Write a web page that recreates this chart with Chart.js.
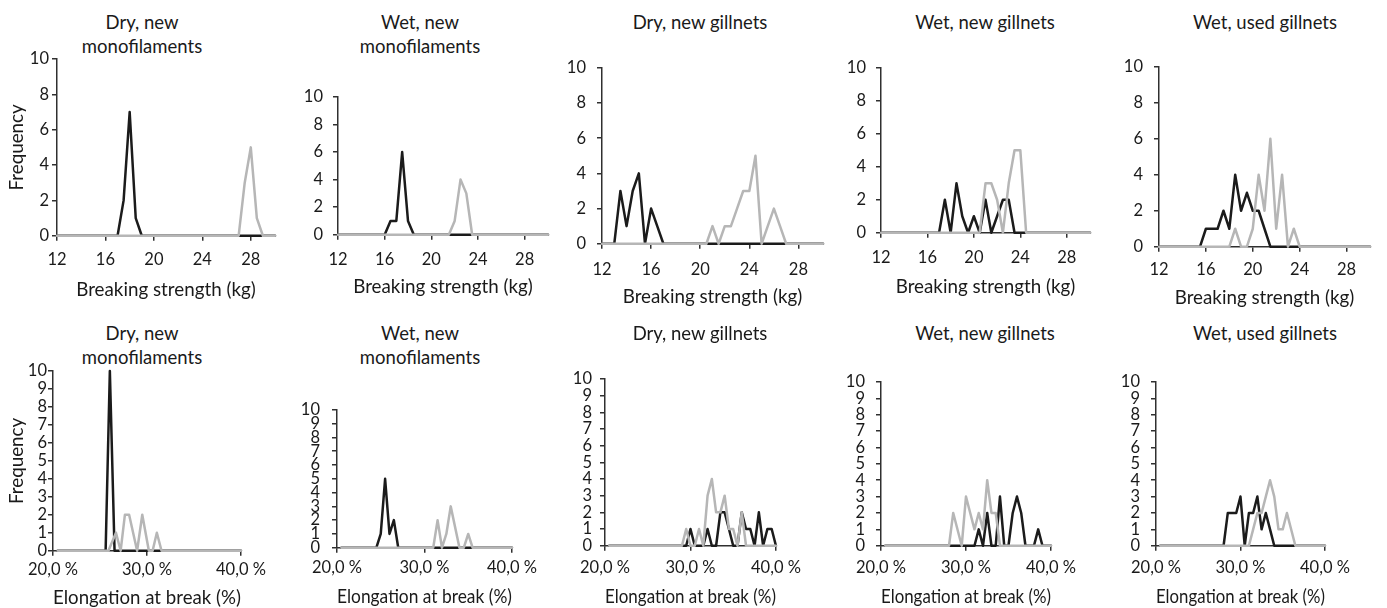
<!DOCTYPE html>
<html>
<head>
<meta charset="utf-8">
<script src="https://cdn.jsdelivr.net/npm/chart.js@4.4.0/dist/chart.umd.min.js"></script>
<style>
  body { margin: 0; width: 1387px; height: 608px; overflow: hidden; background: #fff; position: relative; font-family: Lato, sans-serif; color: #1a1a1a; }
  canvas { position: absolute; }
  .ttl { position: absolute; font-size: 18.5px; line-height: 24px; text-align: center; white-space: nowrap; transform: translateX(-50%); }
</style>
</head>
<body>
<script>
// Axis ticks
const bsTicks = [12, 16, 20, 24, 28];
const bsTickLabels = ['12', '16', '20', '24', '28'];
const elTicks = [20, 30, 40];
const elTickLabels = ['20,0 %', '30,0 %', '40,0 %'];

const panelTitles = [
    ['Dry, new', 'monofilaments'], ['Wet, new', 'monofilaments'],
    ['Dry, new gillnets'], ['Wet, new gillnets'], ['Wet, used gillnets']
];

// Breaking strength (kg) -> frequency, [x, y]
const bsDryMonoBlack = [[12,0],[17,0],[17.5,2],[18,7],[18.5,1],[19,0],[30,0]];
const bsDryMonoGray  = [[12,0],[27,0],[27.5,3],[28,5],[28.5,1],[29,0],[30,0]];
const bsWetMonoBlack = [[12,0],[16,0],[16.5,1],[17,1],[17.5,6],[18,1],[18.5,0],[30,0]];
const bsWetMonoGray  = [[12,0],[21.5,0],[22,1],[22.5,4],[23,3],[23.5,0],[30,0]];
const bsDryNetBlack  = [[12,0],[13,0],[13.5,3],[14,1],[14.5,3],[15,4],[15.5,0],[16,2],[16.5,1],[17,0],[30,0]];
const bsDryNetGray   = [[12,0],[20.5,0],[21,1],[21.5,0],[22,1],[22.5,1],[23,2],[23.5,3],[24,3],[24.5,5],[25,0],[25.5,1],[26,2],[26.5,1],[27,0],[30,0]];
const bsWetNetBlack  = [[12,0],[17,0],[17.5,2],[18,0],[18.5,3],[19,1],[19.5,0],[20,1],[20.5,0],[21,2],[21.5,0],[22,1],[22.5,2],[23,2],[23.5,0],[30,0]];
const bsWetNetGray   = [[12,0],[20.5,0],[21,3],[21.5,3],[22,2],[22.5,0],[23,3],[23.5,5],[24,5],[24.5,0],[30,0]];
const bsWetUsedBlack = [[12,0],[15.5,0],[16,1],[16.5,1],[17,1],[17.5,2],[18,1],[18.5,4],[19,2],[19.5,3],[20,2],[20.5,2],[21,1],[21.5,0],[30,0]];
const bsWetUsedGray  = [[12,0],[18,0],[18.5,1],[19,0],[19.5,0],[20,1],[20.5,4],[21,2],[21.5,6],[22,1],[22.5,4],[23,0],[23.5,1],[24,0],[30,0]];

// Elongation at break (%) -> frequency, [x, y]
const elDryMonoBlack = [[20.5,0],[25.6,0],[26.05,10],[26.55,0],[40,0]];
const elDryMonoGray  = [[20.5,0],[25.9,0],[26.7,1],[27.2,0],[27.65,2],[28.1,2],[28.95,0],[29.5,2],[30.2,0],[30.6,0],[31.05,1],[31.55,0],[40,0]];
const elWetMonoBlack = [[20.5,0],[24.5,0],[25,1],[25.5,5],[26,1],[26.5,2],[27,0],[40,0]];
const elWetMonoGray  = [[20.5,0],[31,0],[31.5,2],[32,0],[32.5,1],[33,3],[34,0],[34.5,0],[35,1],[35.5,0],[40,0]];
const elDryNetBlack  = [[20.5,0],[29.5,0],[30,1],[30.5,0],[31.5,0],[32,1],[32.5,0],[33,0],[33.5,2],[34,2],[34.5,1],[35,0],[35.5,0],[36,2],[36.5,1],[37,1],[37.5,0],[38,2],[38.5,0],[39,1],[39.5,1],[40,0]];
const elDryNetGray   = [[20.5,0],[29,0],[29.5,1],[30,0],[30.5,0],[31,1],[31.5,0],[32,3],[32.5,4],[33,2],[33.5,2],[34,3],[34.5,1],[35,1],[35.5,0],[36,2],[36.5,0],[40,0]];
const elWetNetBlack  = [[20.5,0],[31,0],[31.5,1],[32,0],[32.5,2],[33,0],[33.5,0],[34,3],[34.5,0],[35,0],[35.5,2],[36,3],[36.5,2],[37,0],[38,0],[38.5,1],[39,0],[40,0]];
const elWetNetGray   = [[20.5,0],[28,0],[28.5,2],[29.5,0],[30,3],[30.5,2],[31,1],[31.5,2],[32,1],[32.5,4],[33,2],[33.5,2],[34,0],[40,0]];
const elWetUsedBlack = [[20.5,0],[28,0],[28.5,2],[29,2],[29.5,2],[30,3],[30.5,0],[31,2],[31.5,2],[32,3],[32.5,1],[33,2],[33.5,1],[34,0],[40,0]];
const elWetUsedGray  = [[20.5,0],[31,0],[31.5,1],[32,2],[32.5,2],[33,3],[33.5,4],[34,3],[34.5,1],[35,1],[35.5,2],[36.5,0],[40,0]];

const blackSeries = [bsDryMonoBlack, bsWetMonoBlack, bsDryNetBlack, bsWetNetBlack, bsWetUsedBlack,
                     elDryMonoBlack, elWetMonoBlack, elDryNetBlack, elWetNetBlack, elWetUsedBlack];
const graySeries  = [bsDryMonoGray, bsWetMonoGray, bsDryNetGray, bsWetNetGray, bsWetUsedGray,
                     elDryMonoGray, elWetMonoGray, elDryNetGray, elWetNetGray, elWetUsedGray];

// Panel placement (plot edges, title centre, label rows)
const layout = [
    {xL: 57,   xR: 275,  yT: 59,  yB: 236, tc: 142,  tY: 22,  tickY: 260, axisY: 290, gap: 3, yTitle: 17},
    {xL: 338,  xR: 548,  yT: 91,  yB: 235, tc: 420,  tY: 22,  tickY: 260, axisY: 287, gap: 10},
    {xL: 602,  xR: 823,  yT: 61,  yB: 244, tc: 700,  tY: 22,  tickY: 270, axisY: 297, gap: 11},
    {xL: 881,  xR: 1090, yT: 62,  yB: 233, tc: 985,  tY: 22,  tickY: 258, axisY: 287, gap: 10},
    {xL: 1159, xR: 1370, yT: 60,  yB: 247, tc: 1265, tY: 22,  tickY: 270, axisY: 298, gap: 11},
    {xL: 53,   xR: 262,  yT: 371, yB: 551, tc: 142,  tY: 333, tickY: 570, axisY: 598, gap: 1, yTitle: 17},
    {xL: 337,  xR: 534,  yT: 402, yB: 548, tc: 420,  tY: 333, tickY: 568, axisY: 597, gap: 12},
    {xL: 605,  xR: 800,  yT: 375, yB: 546, tc: 700,  tY: 333, tickY: 568, axisY: 597, gap: 8},
    {xL: 881,  xR: 1075, yT: 375, yB: 546, tc: 985,  tY: 333, tickY: 568, axisY: 597, gap: 11},
    {xL: 1156, xR: 1349, yT: 375, yB: 546, tc: 1265, tY: 333, tickY: 568, axisY: 597, gap: 11}
];

const TEXT = '#1a1a1a';
const AXIS = '#303030';
const tickFont = {family: 'Lato', size: 16.5, lineHeight: 1.2};
const titleFont = {family: 'Lato', size: 18.8, lineHeight: 1.2};
const TICK_LEN = 5;

function makePanel(i) {
    const g = layout[i];
    const strength = i < 5;
    const ticks = strength ? bsTicks : elTicks;
    const tickLabels = strength ? bsTickLabels : elTickLabels;

    // title
    const t = document.createElement('div');
    t.className = 'ttl';
    t.style.left = g.tc + 'px';
    t.style.top = (g.tY - 12) + 'px';
    t.innerHTML = panelTitles[i % 5].join('<br>');
    document.body.appendChild(t);

    const padTop = 14, padRight = 8;
    const cx = g.yTitle ? 0 : g.xL - 60;
    const cy = g.yT - padTop;
    const xAxisH = g.axisY - g.yB + titleFont.size * titleFont.lineHeight / 2;
    const cw = g.xR + padRight - cx;
    const ch = g.yB - cy + xAxisH;

    const cv = document.createElement('canvas');
    cv.width = cw; cv.height = ch;
    Object.assign(cv.style, {left: cx + 'px', top: cy + 'px', width: cw + 'px', height: ch + 'px'});
    document.body.appendChild(cv);

    new Chart(cv, {
        type: 'line',
        data: {
            datasets: [
                {data: blackSeries[i], borderColor: '#1b1b1b', order: 1, clip: false},
                {data: graySeries[i], borderColor: '#b6b6b6', order: 0, clip: false}
            ]
        },
        options: {
            responsive: false,
            animation: false,
            layout: {padding: {top: padTop, right: padRight, left: 0, bottom: 0}, autoPadding: false},
            plugins: {legend: {display: false}, tooltip: {enabled: false}},
            elements: {
                point: {radius: 0},
                line: {borderWidth: 2.5, tension: 0, borderJoinStyle: 'round', borderCapStyle: 'round'}
            },
            scales: {
                x: {
                    type: 'linear',
                    min: strength ? 12 : 20,
                    max: strength ? 30 : 40,
                    afterBuildTicks: s => { s.ticks = ticks.map(v => ({value: v})); },
                    afterFit: s => { s.height = xAxisH; },
                    ticks: {
                        padding: g.tickY - g.yB - TICK_LEN - tickFont.size * tickFont.lineHeight / 2,
                        font: tickFont, color: TEXT, maxRotation: 0, autoSkip: false,
                        callback: (v, idx) => tickLabels[idx]
                    },
                    grid: {drawOnChartArea: false, drawTicks: true, tickLength: TICK_LEN, color: AXIS, lineWidth: 1.5},
                    border: {display: true, color: AXIS, width: 1.5},
                    title: {
                        display: true,
                        text: strength ? 'Breaking strength (kg)' : 'Elongation at break (%)',
                        font: titleFont, color: TEXT, padding: {top: 0, bottom: 0}
                    }
                },
                y: {
                    min: 0,
                    max: 10,
                    afterFit: s => { s.width = g.xL - cx; },
                    ticks: {stepSize: strength ? 2 : 1, autoSkip: false, padding: g.gap, font: tickFont, color: TEXT},
                    grid: {drawOnChartArea: false, drawTicks: true, tickLength: TICK_LEN, color: AXIS, lineWidth: 1.5},
                    border: {display: true, color: AXIS, width: 1.5},
                    title: {
                        display: !!g.yTitle,
                        text: 'Frequency',
                        font: titleFont, color: TEXT,
                        padding: {top: (g.yTitle || 0) - titleFont.size * titleFont.lineHeight / 2, bottom: 0}
                    }
                }
            }
        }
    });
}

for (let i = 0; i < layout.length; i++) makePanel(i);
</script>
</body>
</html>
